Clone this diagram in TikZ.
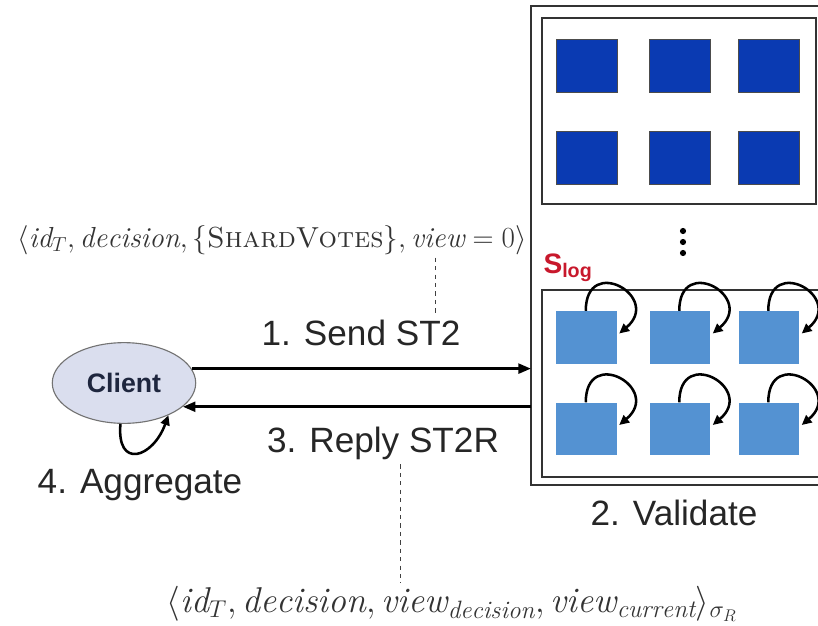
\documentclass[tikz,border=0pt]{standalone}
\usepackage{fontspec}
\newfontfamily\sans{Liberation Sans}
\usepackage{tikz}
\usetikzlibrary{arrows.meta,shapes.geometric,calc}

\definecolor{shardblue}{RGB}{10,58,178}
\definecolor{logblue}{RGB}{84,146,210}
\definecolor{clientfill}{RGB}{218,222,238}
\definecolor{clienttext}{RGB}{30,38,62}
\definecolor{slogred}{RGB}{200,24,44}

\tikzset{
  shardbox/.style={draw=black!70, line width=0.6pt, fill=shardblue, minimum width=43.3pt, minimum height=37.6pt, inner sep=0pt},
  logbox/.style={fill=logblue, minimum width=43.3pt, minimum height=37.6pt, inner sep=0pt},
  frame/.style={line width=1.5pt, black!80},
  msgarrow/.style={line width=2pt, -{Triangle[length=9pt,width=7pt]}},
  selfloop/.style={line width=1.8pt, -{Triangle[length=7pt,width=6.5pt]}},
  steplabel/.style={font=\sans\fontsize{25}{30}\selectfont, text=black!85},
  guide/.style={dashed, line width=0.6pt, black!75},
  formula/.style={text=black!80, inner sep=2pt}
}

\begin{document}
\begin{tikzpicture}[x=0.025cm,y=-0.025cm]
\clip (0,0) rectangle (818,626);

\draw[frame] (531,6) rectangle (840,485);
\draw[frame] (542,18) rectangle (816,204);
\draw[frame] (542,290) rectangle (840,477);
\coordinate (shardW) at (531,0);

\foreach \c/\x in {1/586.5,2/680,3/769}{
  \node[shardbox] (a1\c) at (\x,65.5) {};
  \node[shardbox] (a2\c) at (\x,157.5) {};
  \node[logbox] (b1\c) at (\x,337.5) {};
  \node[logbox] (b2\c) at (\x,429) {};
  \draw[selfloop] ($(b1\c.north west)+(30,0)$) to[out=90,in=40,looseness=3.6] ($(b1\c.east)+(2,-4)$);
  \draw[selfloop] ($(b2\c.north west)+(30,0)$) to[out=90,in=40,looseness=3.6] ($(b2\c.east)+(2,-4)$);
}

\foreach \k in {0,1,2} \fill (683,231+\k*11) circle (2.2pt);

\node[text=slogred, font=\sans\bfseries\fontsize{20}{24}\selectfont] (slog) at (568,268) {S\textsubscript{log}};

\node[ellipse, draw=black!55, line width=0.8pt, fill=clientfill, minimum width=102pt, minimum height=57.4pt, text=clienttext, font=\sans\bfseries\fontsize{19}{22}\selectfont] (client) at (124,383) {Client};

\draw[msgarrow] (client.12) -- (client.12 -| shardW);
\draw[msgarrow] (client.-22 -| shardW) -- (client.-22);
\draw[selfloop] (client.-95) to[out=-95,in=-110,looseness=2.4] (client.-36);

\node[steplabel] (lblSend) at (361,333) {1. Send ST2};
\node[steplabel] (lblReply) at (383,443) {3. Reply ST2R};
\node[steplabel] (lblAgg) at (140,485) {4. Aggregate};
\node[steplabel] (lblVal) at (674,513) {2. Validate};

\node[formula, font=\fontsize{20.6}{24}\selectfont] (fmSend) at (272,240)
  {$\langle \mathit{id}_T, \mathit{decision}, \{\textsc{ShardVotes}\}, \mathit{view} = 0\rangle$};
\node[formula, font=\fontsize{25.5}{30}\selectfont] (fmReply) at (452,604)
  {$\langle \mathit{id}_T, \mathit{decision}, \mathit{view}_{\mathit{decision}}, \mathit{view}_{\mathit{current}}\rangle_{\sigma_R}$};

\coordinate (tapS) at (435,0);
\coordinate (tapR) at (400,0);
\draw[guide] (fmSend.south -| tapS) -- (lblSend.north -| tapS);
\draw[guide] (lblReply.south -| tapR) -- (fmReply.north -| tapR);
\end{tikzpicture}
\end{document}
